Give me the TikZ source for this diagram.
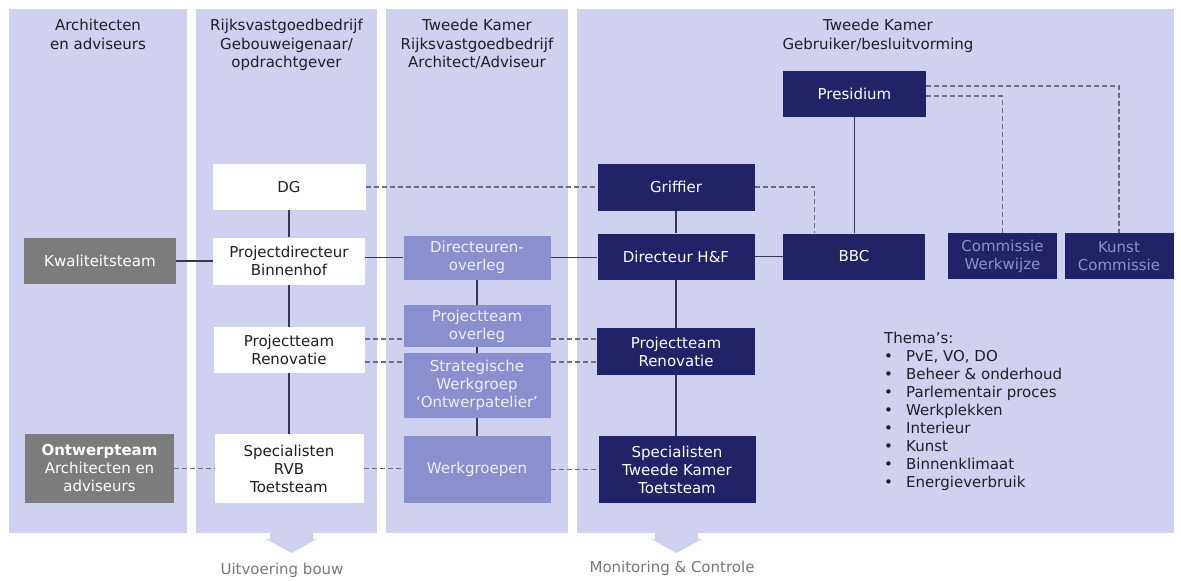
\documentclass[tikz,border=0pt]{standalone}
\usepackage{fontspec}
\setmainfont{DejaVu Sans}
\definecolor{colbg}{RGB}{208,209,240}
\definecolor{navy}{RGB}{34,34,104}
\definecolor{medium}{RGB}{138,143,207}
\definecolor{greybox}{RGB}{124,124,124}
\definecolor{comtext}{RGB}{140,143,215}
\definecolor{medtext}{RGB}{238,238,252}
\definecolor{darktext}{RGB}{30,30,40}
\definecolor{solidln}{RGB}{55,55,85}
\definecolor{dashln}{RGB}{110,110,125}
\definecolor{bottomtext}{RGB}{120,120,120}
\begin{document}
\begin{tikzpicture}[x=1pt,y=-1pt,
  box/.style={rectangle, inner sep=0pt, align=center, font=\fontsize{15}{18}\selectfont},
  whitebox/.style={box, fill=white, text=darktext},
  navybox/.style={box, fill=navy, text=white},
  medbox/.style={box, fill=medium, text=medtext},
  greyb/.style={box, fill=greybox, text=white},
  combox/.style={box, fill=navy, text=comtext},
  header/.style={inner sep=0pt, align=center, anchor=north, text=darktext, font=\fontsize{15}{18.5}\selectfont},
  column/.style={fill=colbg, draw=none},
  sl/.style={draw=solidln, line width=1.5pt},
  dl/.style={draw=dashln, line width=1.1pt, dash pattern=on 5pt off 3pt},
  bigarrow/.style={fill=colbg, draw=none},
  bottomlabel/.style={inner sep=0pt, text=bottomtext, font=\fontsize{15}{18}\selectfont}
]
\useasboundingbox (0,0) rectangle (1181,581);
\fill[white] (0,0) rectangle (1181,581);

% columns
\path[column] (9,9) rectangle (187,533);
\path[column] (196,9) rectangle (377,533);
\path[column] (386,9) rectangle (568,533);
\path[column] (577,9) rectangle (1174,533);

% headers
\node[header] (h1) at (98,19) {Architecten\\en adviseurs};
\node[header] (h2) at (286.5,19) {Rijksvastgoedbedrijf\\Gebouweigenaar/\\opdrachtgever};
\node[header] (h3) at (477,19) {Tweede Kamer\\Rijksvastgoedbedrijf\\Architect/Adviseur};
\node[header] (h4) at (878,19) {Tweede Kamer\\Gebruiker/besluitvorming};

% nodes
\node[navybox, minimum width=143pt, minimum height=46pt] (pres) at (854.5,94) {Presidium};
\node[whitebox, minimum width=153pt, minimum height=46pt] (dg) at (289,187) {DG};
\node[navybox, minimum width=157pt, minimum height=47pt] (gr) at (676,187) {Griffier};

\node[greyb, minimum width=152pt, minimum height=46pt] (kw) at (100,261) {Kwaliteitsteam};
\node[whitebox, minimum width=152pt, minimum height=47pt] (pd) at (289,261) {Projectdirecteur\\Binnenhof};
\node[medbox, minimum width=147pt, minimum height=44pt] (dov) at (477,257.5) {Directeuren-\\overleg};
\node[navybox, minimum width=157pt, minimum height=46pt] (dh) at (676,256.5) {Directeur H\&F};
\node[navybox, minimum width=142pt, minimum height=46pt] (bbc) at (854,256.5) {BBC};
\node[combox, minimum width=109pt, minimum height=46pt] (cw) at (1002.5,256) {Commissie\\Werkwijze};
\node[combox, minimum width=109pt, minimum height=46pt] (kc) at (1119,256) {Kunst\\Commissie};

\node[medbox, minimum width=147pt, minimum height=42pt] (pto) at (477,326) {Projectteam\\overleg};
\node[whitebox, minimum width=151pt, minimum height=46pt] (prw) at (289,350) {Projectteam\\Renovatie};
\node[navybox, minimum width=158pt, minimum height=47pt] (prd) at (676,351.5) {Projectteam\\Renovatie};
\node[medbox, minimum width=147pt, minimum height=65pt] (sw) at (477,385.5) {Strategische\\Werkgroep\\‘Ontwerpatelier’};

\node[greyb, minimum width=149pt, minimum height=69pt] (ont) at (99.5,468.5) {\textbf{Ontwerpteam}\\Architecten en\\adviseurs};
\node[whitebox, minimum width=149pt, minimum height=69pt] (srvb) at (289,468.5) {Specialisten\\RVB\\Toetsteam};
\node[medbox, minimum width=147pt, minimum height=67pt] (wg) at (477,469.5) {Werkgroepen};
\node[navybox, minimum width=157pt, minimum height=67pt] (stk) at (677,469.5) {Specialisten\\Tweede Kamer\\Toetsteam};

% solid connectors
\draw[sl] (dg.south) -- (dg.south |- pd.north);
\draw[sl] (pd.south) -- (pd.south |- prw.north);
\draw[sl] (prw.south) -- (prw.south |- srvb.north);
\draw[sl] (kw.east) -- (kw.east -| pd.west);
\draw[sl] (pd.east |- dov.west) -- (dov.west);
\draw[sl] (dov.east) -- (dov.east -| dh.west);
\draw[sl] (dh.east) -- (dh.east -| bbc.west);
\draw[sl] (gr.south) -- (gr.south |- dh.north);
\draw[sl] (dh.south) -- (dh.south |- prd.north);
\draw[sl] (prd.south) -- (prd.south |- stk.north);
\draw[sl] (pres.south) -- (pres.south |- bbc.north);
\draw[sl] (dov.south) -- (dov.south |- pto.north);
\draw[sl] (pto.south) -- (pto.south |- sw.north);
\draw[sl] (sw.south) -- (sw.south |- wg.north);

% dashed connectors
\draw[dl] (dg.east) -- (dg.east -| gr.west);
\draw[dl] (gr.east) -| ([xshift=32pt]bbc.north west);
\draw[dl] ([yshift=8pt]pres.east) -| (kc.north);
\draw[dl] ([yshift=-2pt]pres.east) -| (cw.north);
\draw[dl] ([yshift=11pt]prw.east) -- ([yshift=11pt]prw.east -| pto.west);
\draw[dl] ([yshift=-13pt]pto.east) -- ([yshift=-13pt]pto.east -| prd.west);
\draw[dl] ([yshift=-12pt]prw.east) -- ([yshift=-12pt]prw.east -| sw.west);
\draw[dl] ([yshift=23.5pt]sw.east) -- ([yshift=23.5pt]sw.east -| prd.west);
\draw[dl] (ont.east) -- (ont.east -| srvb.west);
\draw[dl] (srvb.east) -- (srvb.east -| wg.west);
\draw[dl] (wg.east) -- (wg.east -| stk.west);

% themes
\node[inner sep=0pt, anchor=north west, align=left, text=darktext, font=\fontsize{15}{18}\selectfont] (thema) at (884,332)
{Thema’s:\\
\makebox[22pt][l]{•}PvE, VO, DO\\
\makebox[22pt][l]{•}Beheer \& onderhoud\\
\makebox[22pt][l]{•}Parlementair proces\\
\makebox[22pt][l]{•}Werkplekken\\
\makebox[22pt][l]{•}Interieur\\
\makebox[22pt][l]{•}Kunst\\
\makebox[22pt][l]{•}Binnenklimaat\\
\makebox[22pt][l]{•}Energieverbruik};

% bottom arrows
\path[bigarrow] (270,533) -- (313,533) -- (313,539) -- (317,539) -- (291.5,553) -- (266,539) -- (270,539) -- cycle;
\path[bigarrow] (655,533) -- (698,533) -- (698,539) -- (702,539) -- (676.5,553) -- (651,539) -- (655,539) -- cycle;
\node[bottomlabel] (ub) at (282,570) {Uitvoering bouw};
\node[bottomlabel] (mc) at (672,568) {Monitoring \& Controle};
\end{tikzpicture}
\end{document}
